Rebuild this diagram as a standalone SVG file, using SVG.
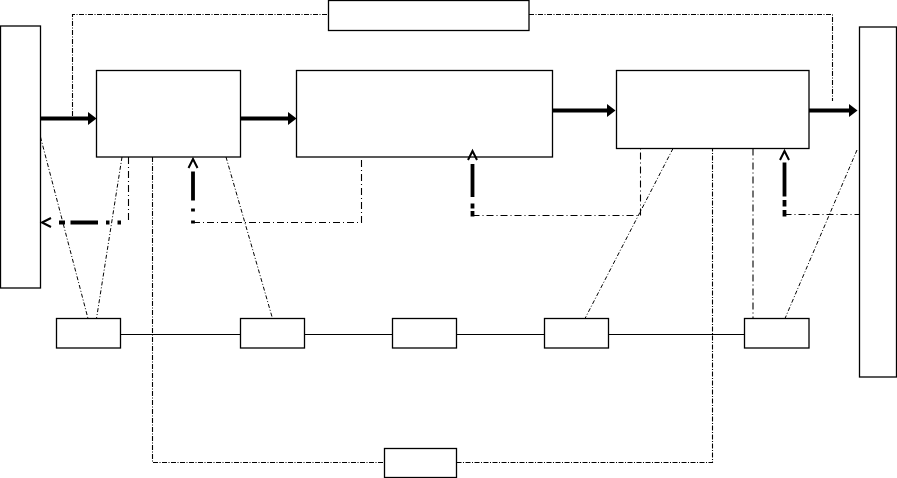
<svg xmlns="http://www.w3.org/2000/svg" width="897" height="478" viewBox="0 0 897 478">
<style>
.node{fill:#fff;stroke:#000;stroke-width:1.3}
.thin{fill:none;stroke:#000;stroke-width:1.1}
.loop{fill:none;stroke:#000;stroke-width:1.1;stroke-dasharray:5 1.5 1 1.5}
.fb{fill:none;stroke:#000;stroke-width:1.1;stroke-dasharray:7 3 1 3}
.diag{fill:none;stroke:#000;stroke-width:1;stroke-dasharray:4 2 1 2}
.thick{fill:none;stroke:#000;stroke-width:4}
.thickd{fill:none;stroke:#000;stroke-width:3.8}
</style>
<defs>
<marker id="fa" markerUnits="userSpaceOnUse" markerWidth="10" markerHeight="14" refX="0" refY="6.5" orient="auto" overflow="visible">
<path d="M0,0 L8.5,6.5 L0,13 z" fill="#000"/>
</marker>
<marker id="oa" markerUnits="userSpaceOnUse" markerWidth="12" markerHeight="12" refX="9" refY="0" orient="auto" overflow="visible">
<path d="M0,-4.5 L9,0 L0,4.5" fill="none" stroke="#000" stroke-width="2"/>
</marker>
</defs>
<rect width="897" height="478" fill="#fff"/>
<g id="left-block"><rect class="node" x="0.5" y="26" width="40" height="262"/></g>
<g id="right-block"><rect class="node" x="859.5" y="27" width="37" height="350"/></g>
<g id="top-box"><rect class="node" x="328.5" y="0.5" width="200.5" height="30"/></g>
<g id="box1"><rect class="node" x="96.5" y="70.5" width="144" height="86.5"/></g>
<g id="box2"><rect class="node" x="296.5" y="70.5" width="256" height="86.5"/></g>
<g id="box3"><rect class="node" x="616.5" y="70.5" width="192.5" height="78"/></g>
<g id="sb1"><rect class="node" x="56.5" y="318.5" width="64" height="29.5"/></g>
<g id="sb2"><rect class="node" x="240.5" y="318.5" width="64" height="29.5"/></g>
<g id="sb3"><rect class="node" x="392.5" y="318.5" width="64" height="29.5"/></g>
<g id="sb4"><rect class="node" x="544.5" y="318.5" width="64" height="29.5"/></g>
<g id="sb5"><rect class="node" x="744.5" y="318.5" width="64.5" height="29.5"/></g>
<g id="bottom-box"><rect class="node" x="384.5" y="448.5" width="72" height="29"/></g>
<g id="connectors">
<path class="loop" d="M72.5,116 V14.5 H328.5"/>
<path class="loop" d="M529,14.5 H832.5 V101"/>
<path class="loop" d="M152.5,157 V462.5 H384.5"/>
<path class="loop" d="M456.5,462.5 H712.5 V148.5"/>
<path class="thin" d="M120.5,334.5 H240.5 M304.5,334.5 H392.5 M456.5,334.5 H544.5 M608.5,334.5 H744.5"/>
<path class="thick" d="M40,118.5 H88" marker-end="url(#fa)"/>
<path class="thick" d="M241,118.5 H288" marker-end="url(#fa)"/>
<path class="thick" d="M553,110.5 H607" marker-end="url(#fa)"/>
<path class="thick" d="M809,110.5 H849" marker-end="url(#fa)"/>
<path class="fb" d="M128.5,157 V220"/>
<path class="thickd" d="M121,222.5 H42" stroke-dasharray="3.5 8 3.5 8 27.5 5.5 6 20" marker-end="url(#oa)"/>
<path class="fb" d="M193,222.5 H361.5 V157"/>
<path class="thickd" d="M193,223.5 V159" stroke-dasharray="3 9 3 8 29 20" marker-end="url(#oa)"/>
<path class="fb" d="M472.5,215.5 H640.5 V148.5"/>
<path class="thickd" d="M472.5,216.5 V151" stroke-dasharray="5.5 2.5 5 6.5 33 20" marker-end="url(#oa)"/>
<path class="fb" d="M784.5,214.5 H859"/>
<path class="thickd" d="M784.5,216.5 V151" stroke-dasharray="6.5 3.5 6.5 3.5 34 20" marker-end="url(#oa)"/>
<path class="fb" d="M753,148.5 V318.5"/>
<path class="diag" d="M40.5,137 L88,318.5"/>
<path class="diag" d="M122,157 L96.5,318.5"/>
<path class="diag" d="M226,157 L272.5,318.5"/>
<path class="diag" d="M673,148.5 L585,318.5"/>
<path class="diag" d="M857,150 L785,318.5"/>
</g>
</svg>
